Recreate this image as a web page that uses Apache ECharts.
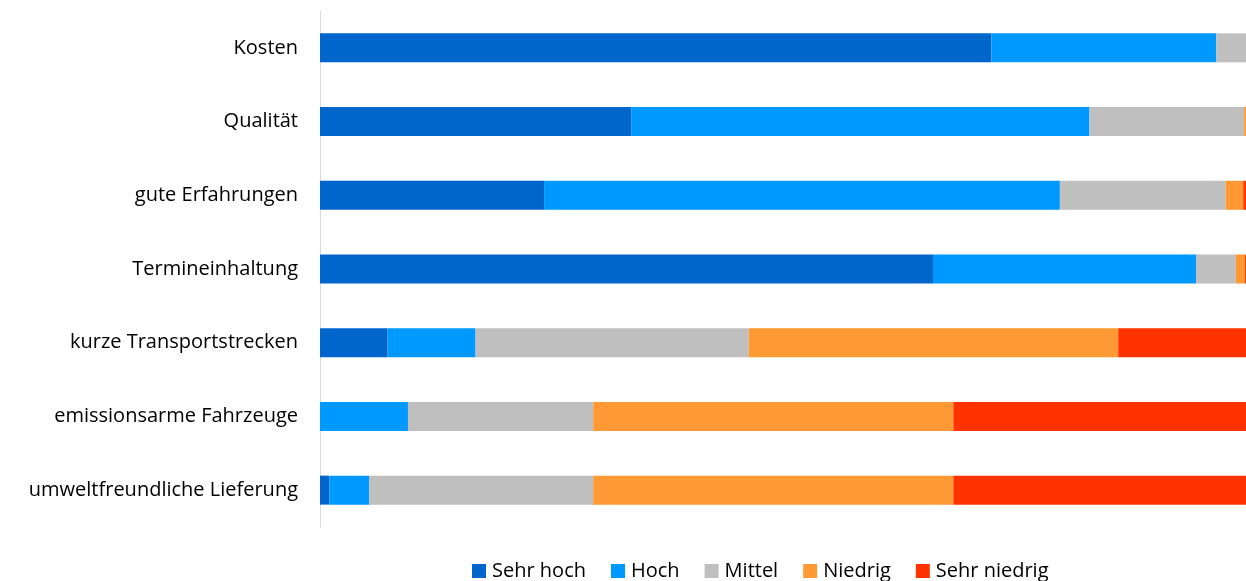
<!DOCTYPE html>
<html>
<head>
<meta charset="utf-8">
<script src="https://cdn.jsdelivr.net/npm/echarts@6/dist/echarts.min.js"></script>
<style>
  html, body { margin: 0; padding: 0; background: #fff; }
  #chart { width: 1246px; height: 581px; }
</style>
</head>
<body>
<div id="chart"></div>
<script>
// Kategorien von oben nach unten
const categories = ['Kosten', 'Qualität', 'gute Erfahrungen', 'Termineinhaltung',
  'kurze Transportstrecken', 'emissionsarme Fahrzeuge', 'umweltfreundliche Lieferung']
// Anteile in Prozent, gleiche Reihenfolge wie categories
const sehrHoch = [72.5, 33.6, 24.2, 66.2, 7.3, 0, 1.0]
const hoch = [24.3, 49.5, 55.7, 28.4, 9.5, 9.5, 4.3]
const mittel = [3.2, 16.7, 17.9, 4.3, 29.5, 20.0, 24.2]
const niedrig = [0, 0.2, 1.9, 1.0, 39.9, 38.9, 38.9]
const sehrNiedrig = [0, 0, 0.3, 0.1, 13.8, 31.6, 31.6]

const seriesNames = ['Sehr hoch', 'Hoch', 'Mittel', 'Niedrig', 'Sehr niedrig']
const colorArr = ['#0066cc', '#0099ff', '#bfbfbf', '#ff9933', '#ff3300']
const seriesData = [sehrHoch, hoch, mittel, niedrig, sehrNiedrig]

const chart = echarts.init(document.getElementById('chart'))
const fontFamily = "'Open Sans', sans-serif"

chart.setOption({
  animation: false,
  legend: {
    top: 556,
    left: 467,
    itemWidth: 14,
    itemHeight: 14,
    itemGap: 25,
    icon: 'rect',
    textStyle: { fontFamily, fontSize: 20, color: '#000', padding: [0, 0, 0, 1] },
    data: seriesNames
  },
  grid: {
    top: 11,
    left: 320,
    right: 0,
    bottom: 54
  },
  xAxis: {
    type: 'value',
    min: 0,
    max: 100,
    show: false
  },
  yAxis: {
    type: 'category',
    inverse: true,
    data: categories,
    axisLine: { lineStyle: { color: '#d9d9d9', width: 1 } },
    axisTick: { show: false },
    axisLabel: { fontFamily, fontSize: 20, color: '#000', margin: 22 }
  },
  series: seriesNames.map((name, i) => ({
    name: name,
    type: 'bar',
    stack: 'total',
    barWidth: 29,
    data: seriesData[i],
    itemStyle: { color: colorArr[i] }
  }))
})
</script>
</body>
</html>
